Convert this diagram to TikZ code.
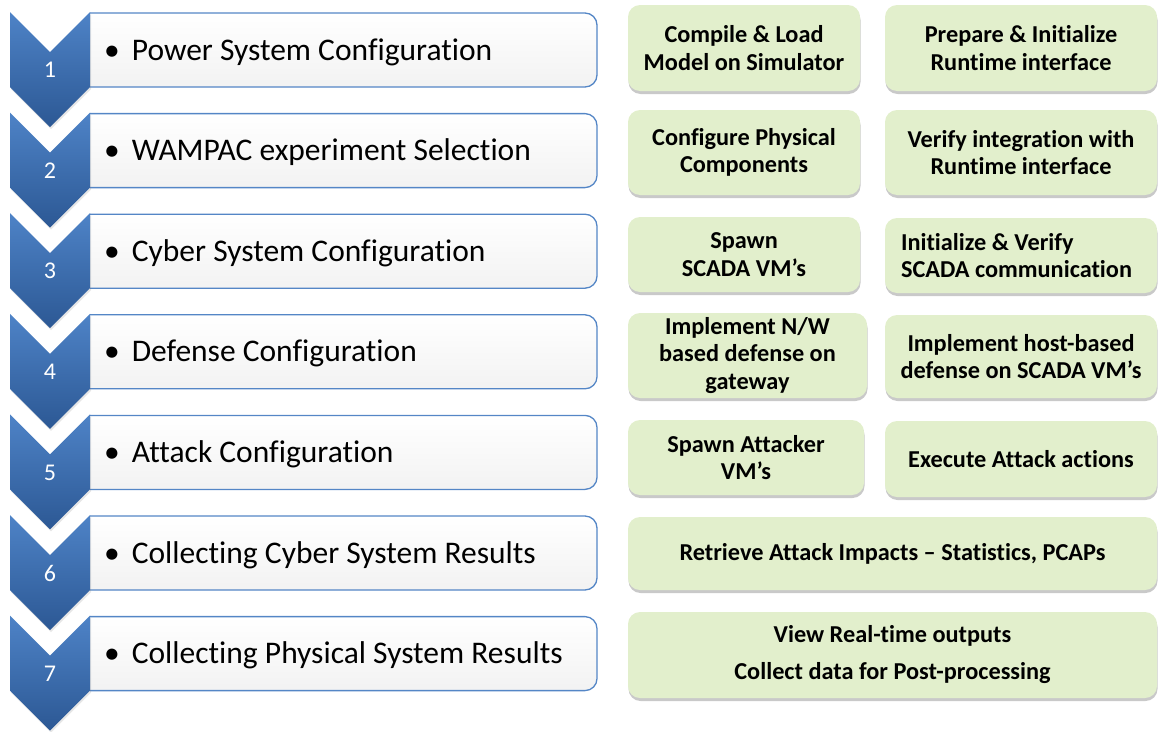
\documentclass[tikz,border=0pt]{standalone}
\usepackage{fontspec}
\setmainfont{Carlito}[Ligatures={NoCommon,NoContextual}]
\usetikzlibrary{shadows}
\definecolor{chevtop}{RGB}{78,131,199}
\definecolor{chevbot}{RGB}{44,88,148}
\definecolor{boxline}{RGB}{84,134,198}
\definecolor{greenfill}{RGB}{226,239,204}
\tikzset{
  greenbox/.style={rectangle, rounded corners=12pt, fill=greenfill, draw=none,
    inner sep=0pt, align=center, text=black,
    font=\bfseries\fontsize{24.3}{27.5}\selectfont,
    drop shadow={shadow xshift=0.5pt, shadow yshift=-3pt, opacity=0.3, fill=black!70}},
  chev/.style={top color=chevtop, bottom color=chevbot, draw=none},
  stepbox/.style={draw=boxline, line width=1.3pt, top color=white, bottom color=black!5, rounded corners=12pt},
  steptext/.style={anchor=base west, font=\fontsize{31.5}{36}\selectfont, inner sep=0pt, text=black},
  stepnum/.style={text=white, font=\fontsize{24}{28}\selectfont, inner sep=0pt},
}
\begin{document}
\begin{tikzpicture}[x=1pt,y=-1pt]
\useasboundingbox (0,0) rectangle (1158,731);
% white step boxes
\foreach \k/\txt in {1/Power System Configuration,2/WAMPAC experiment Selection,3/Cyber System Configuration,4/Defense Configuration,5/Attack Configuration,6/Collecting Cyber System Results,7/Collecting Physical System Results}{
  \pgfmathsetmacro{\T}{13+100.6*(\k-1)}
  \pgfmathsetmacro{\B}{\T+74}
  \pgfmathsetmacro{\BL}{\T+47}
  \path[stepbox] (90,\T) -- (597,\T) -- (597,\B) -- (90,\B);
  \node[steptext] (s\k) at (104,\BL) {•\hspace{12pt}\txt};
}
% chevrons
\foreach \k in {1,...,7}{
  \pgfmathsetmacro{\C}{12+100.6*(\k-1)}
  \pgfmathsetmacro{\Ca}{\C+40}
  \pgfmathsetmacro{\Cb}{\C+75}
  \pgfmathsetmacro{\Cc}{\C+115}
  \pgfmathsetmacro{\N}{\C+58}
  \path[chev, drop shadow={shadow xshift=1pt, shadow yshift=-2pt, opacity=0.2}]
    (10,\C) -- (50,\Ca) -- (90,\C) -- (90,\Cb) -- (50,\Cc) -- (10,\Cb) -- cycle;
  \node[stepnum] (n\k) at (50,\N) {\k};
}
% green action boxes
\node[greenbox, minimum width=232pt, minimum height=86pt] (g1a) at (744,48) {Compile \& Load\\Model on Simulator};
\node[greenbox, minimum width=272pt, minimum height=86pt] (g1b) at (1021,48) {Prepare \& Initialize\\Runtime interface};
\node[greenbox, minimum width=232pt, minimum height=85pt] (g2a) at (744,152.5) {Configure Physical\\Components};
\node[greenbox, minimum width=272pt, minimum height=85pt] (g2b) at (1021,152.5) {Verify integration with\\Runtime interface};
\node[greenbox, minimum width=232pt, minimum height=75pt] (g3a) at (744,254.5) {Spawn\\SCADA VM’s};
\node[greenbox, minimum width=272pt, minimum height=75pt, text width=240pt, align=flush left] (g3b) at (1021,255.5) {Initialize \& Verify\\SCADA communication};
\node[greenbox, minimum width=239pt, minimum height=85pt] (g4a) at (747.5,355.5) {Implement N/W\\based defense on\\gateway};
\node[greenbox, minimum width=272pt, minimum height=83pt] (g4b) at (1021,356.5) {Implement host-based\\defense on SCADA VM’s};
\node[greenbox, minimum width=236pt, minimum height=75pt] (g5a) at (746,457.5) {Spawn Attacker\\VM’s};
\node[greenbox, minimum width=272pt, minimum height=76pt] (g5b) at (1021,459) {Execute Attack actions};
\node[greenbox, minimum width=529pt, minimum height=73pt] (g6) at (892.5,553.5) {Retrieve Attack Impacts – Statistics, PCAPs};
\node[greenbox, minimum width=529pt, minimum height=86pt] (g7) at (892.5,655) {View Real-time outputs\\[9.5pt]Collect data for Post-processing};
\end{tikzpicture}
\end{document}
